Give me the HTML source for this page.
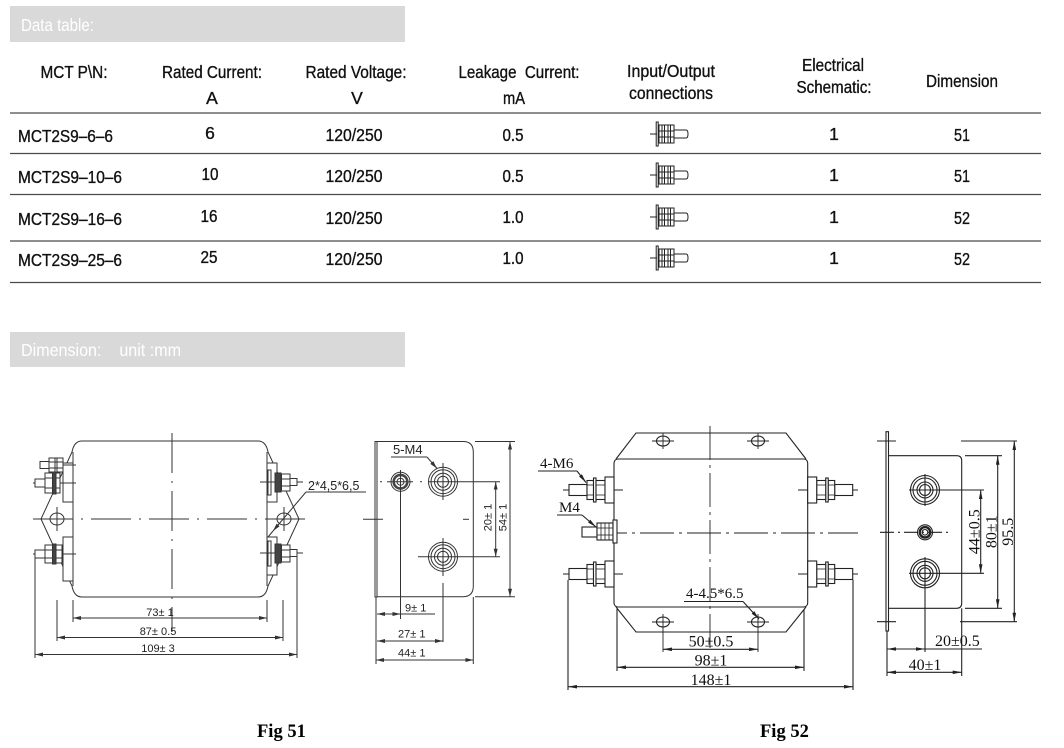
<!DOCTYPE html>
<html><head><meta charset="utf-8"><style>
html,body{margin:0;padding:0;background:#fff;}
svg{display:block;}
.tx{font-family:"Liberation Sans",Arial,sans-serif;font-size:17.5px;fill:#111;stroke:#111;stroke-width:0.35px;}
.bar{font-family:"Liberation Sans",Arial,sans-serif;font-size:17.5px;fill:#fff;}
.d11{font-family:"Liberation Sans",Arial,sans-serif;font-size:11px;fill:#222;}
.s16{font-family:"Liberation Serif","Times New Roman",serif;font-size:16px;fill:#111;}
.s15{font-family:"Liberation Serif","Times New Roman",serif;font-size:15px;fill:#111;}
.fig{font-family:"Liberation Serif","Times New Roman",serif;font-size:18.5px;font-weight:bold;fill:#000;}
</style></head><body>
<svg width="1064" height="748" viewBox="0 0 1064 748" xmlns="http://www.w3.org/2000/svg">
<defs>
<marker id="a1" viewBox="0 0 8 4" refX="8" refY="2" markerWidth="8" markerHeight="4" markerUnits="userSpaceOnUse" orient="auto-start-reverse"><path d="M0,0L8,2L0,4z" fill="#333"/></marker>
<marker id="a2" viewBox="0 0 10 4" refX="10" refY="2" markerWidth="10" markerHeight="3.6" markerUnits="userSpaceOnUse" orient="auto-start-reverse"><path d="M0,0L10,2L0,4z" fill="#222"/></marker>
<g id="ic" stroke="#222" stroke-width="1" fill="none">
<line x1="-7" y1="0" x2="0" y2="0"/>
<rect x="-0.8" y="-12" width="2" height="24"/>
<rect x="2" y="-9" width="15" height="18"/>
<line x1="5" y1="-9" x2="5" y2="9"/><line x1="7.5" y1="-9" x2="7.5" y2="9"/>
<line x1="11" y1="-9" x2="11" y2="9"/><line x1="13.5" y1="-9" x2="13.5" y2="9"/>
<line x1="2" y1="-3" x2="17" y2="-3"/><line x1="2" y1="3" x2="17" y2="3"/>
<path d="M17,-4 H29 Q31,-4 31,0 Q31,4 29,4 H17"/>
</g>
</defs>

<!-- header bars -->
<rect x="10" y="6" width="395" height="36" fill="#d9d9d9"/>
<text x="21" y="31" class="bar" textLength="73" lengthAdjust="spacingAndGlyphs">Data table:</text>
<rect x="10" y="332" width="395" height="35" fill="#d9d9d9"/>
<text x="21" y="356" class="bar" xml:space="preserve" textLength="160" lengthAdjust="spacingAndGlyphs">Dimension:    unit :mm</text>

<!-- table header -->
<g class="tx" text-anchor="middle">
<text x="74" y="78" textLength="67" lengthAdjust="spacingAndGlyphs">MCT P\N:</text>
<text x="212" y="78" textLength="100" lengthAdjust="spacingAndGlyphs">Rated Current:</text>
<text x="212" y="104">A</text>
<text x="356" y="78" textLength="101" lengthAdjust="spacingAndGlyphs">Rated Voltage:</text>
<text x="357" y="104">V</text>
<text x="519" y="78" xml:space="preserve" textLength="121" lengthAdjust="spacingAndGlyphs">Leakage  Current:</text>
<text x="514" y="104" textLength="22" lengthAdjust="spacingAndGlyphs">mA</text>
<text x="671" y="77" textLength="88" lengthAdjust="spacingAndGlyphs">Input/Output</text>
<text x="671" y="99" textLength="84" lengthAdjust="spacingAndGlyphs">connections</text>
<text x="833" y="71" textLength="62" lengthAdjust="spacingAndGlyphs">Electrical</text>
<text x="834" y="93" textLength="75" lengthAdjust="spacingAndGlyphs">Schematic:</text>
<text x="962" y="87" textLength="72" lengthAdjust="spacingAndGlyphs">Dimension</text>
</g>

<g stroke="#4a4a4a" stroke-width="1.3">
<line x1="10" y1="113" x2="1041" y2="113"/>
<line x1="10" y1="153.5" x2="1041" y2="153.5"/>
<line x1="10" y1="194.5" x2="1041" y2="194.5"/>
<line x1="10" y1="241" x2="1041" y2="241"/>
<line x1="10" y1="282.5" x2="1041" y2="282.5"/>
</g>

<!-- rows -->
<g class="tx">
<text x="18" y="142" textLength="95" lengthAdjust="spacingAndGlyphs">MCT2S9–6–6</text>
<text x="18" y="183" textLength="104" lengthAdjust="spacingAndGlyphs">MCT2S9–10–6</text>
<text x="18" y="225" textLength="104" lengthAdjust="spacingAndGlyphs">MCT2S9–16–6</text>
<text x="18" y="266" textLength="104" lengthAdjust="spacingAndGlyphs">MCT2S9–25–6</text>
</g>
<g class="tx" text-anchor="middle">
<text x="210" y="139">6</text>
<text x="210" y="180" textLength="17" lengthAdjust="spacingAndGlyphs">10</text>
<text x="209" y="222" textLength="17" lengthAdjust="spacingAndGlyphs">16</text>
<text x="209" y="263" textLength="17" lengthAdjust="spacingAndGlyphs">25</text>
<text x="354" y="141" textLength="57" lengthAdjust="spacingAndGlyphs">120/250</text>
<text x="354" y="182" textLength="57" lengthAdjust="spacingAndGlyphs">120/250</text>
<text x="354" y="224" textLength="57" lengthAdjust="spacingAndGlyphs">120/250</text>
<text x="354" y="265" textLength="57" lengthAdjust="spacingAndGlyphs">120/250</text>
<text x="513" y="141" textLength="21" lengthAdjust="spacingAndGlyphs">0.5</text>
<text x="513" y="182" textLength="21" lengthAdjust="spacingAndGlyphs">0.5</text>
<text x="513" y="223" textLength="21" lengthAdjust="spacingAndGlyphs">1.0</text>
<text x="513" y="264" textLength="21" lengthAdjust="spacingAndGlyphs">1.0</text>
<text x="834" y="140">1</text>
<text x="834" y="181">1</text>
<text x="834" y="223">1</text>
<text x="834" y="264">1</text>
<text x="962" y="141" textLength="16" lengthAdjust="spacingAndGlyphs">51</text>
<text x="962" y="182" textLength="16" lengthAdjust="spacingAndGlyphs">51</text>
<text x="962" y="224" textLength="16" lengthAdjust="spacingAndGlyphs">52</text>
<text x="962" y="265" textLength="16" lengthAdjust="spacingAndGlyphs">52</text>
</g>
<use href="#ic" transform="translate(657,134)"/>
<use href="#ic" transform="translate(657,175)"/>
<use href="#ic" transform="translate(657,217)"/>
<use href="#ic" transform="translate(657,258)"/>

<!-- ================= FIG 51 LEFT ================= -->
<g stroke="#333" stroke-width="1" fill="none">
<path d="M82,441 H258 Q266,441 268,452 L299,519 L268,586 Q266,597 258,597 H82 Q74,597 72,586 L41,519 L72,452 Q74,441 82,441Z"/>
<line x1="73" y1="452" x2="73" y2="586"/>
<line x1="267" y1="452" x2="267" y2="586"/>
<ellipse cx="57" cy="519" rx="7" ry="6"/>
<ellipse cx="284" cy="519" rx="7" ry="6"/>
<line x1="57" y1="507" x2="57" y2="531"/>
<line x1="284" y1="507" x2="284" y2="531"/>
<line x1="33" y1="519" x2="308" y2="519" stroke-dasharray="40 8 2 8"/>
<line x1="172" y1="433" x2="172" y2="632" stroke-dasharray="40 8 2 8"/>
<!-- plates -->
<rect x="63" y="463" width="10" height="39" fill="#fff"/>
<rect x="63" y="537" width="10" height="44" fill="#fff"/>
<rect x="267" y="463" width="10" height="39" fill="#fff"/>
<rect x="267" y="537" width="10" height="38" fill="#fff"/>
<rect x="268" y="470" width="3" height="25"/>
<rect x="268" y="541" width="3" height="25"/>
<!-- left terminals -->
<line x1="40" y1="465" x2="76" y2="465"/>
<line x1="33" y1="483" x2="76" y2="483"/>
<line x1="33" y1="554" x2="76" y2="554"/>
<rect x="40" y="461.5" width="9" height="7" fill="#fff"/>
<rect x="49" y="458" width="14" height="14" fill="#fff"/>
<line x1="49" y1="462" x2="63" y2="462"/><line x1="49" y1="468" x2="63" y2="468"/>
<line x1="55" y1="458" x2="55" y2="472"/><line x1="57" y1="458" x2="57" y2="472"/>
<rect x="35" y="479" width="10" height="8" fill="#fff"/>
<rect x="45" y="473" width="15" height="20" fill="#fff"/>
<line x1="45" y1="478" x2="60" y2="478"/><line x1="45" y1="488" x2="60" y2="488"/>
<rect x="52.5" y="472" width="3.5" height="22" fill="#444"/>
<rect x="35" y="550" width="10" height="8" fill="#fff"/>
<rect x="45" y="545" width="17" height="18" fill="#fff"/>
<line x1="45" y1="550" x2="62" y2="550"/><line x1="45" y1="558" x2="62" y2="558"/>
<rect x="52.5" y="544" width="3.5" height="20" fill="#444"/>
<!-- right terminals -->
<line x1="260" y1="482" x2="303" y2="482"/>
<line x1="260" y1="553" x2="303" y2="553"/>
<rect x="275" y="473" width="6" height="19" fill="#444"/>
<rect x="281.5" y="474" width="8.5" height="17" fill="#fff"/>
<line x1="281.5" y1="479" x2="290" y2="479"/><line x1="281.5" y1="486" x2="290" y2="486"/>
<rect x="290" y="478.5" width="7" height="7" fill="#fff"/>
<rect x="275" y="544" width="6" height="19" fill="#444"/>
<rect x="281.5" y="545" width="8.5" height="17" fill="#fff"/>
<line x1="281.5" y1="550" x2="290" y2="550"/><line x1="281.5" y1="557" x2="290" y2="557"/>
<rect x="290" y="549.5" width="7" height="7" fill="#fff"/>
<!-- leader 2*4,5*6,5 -->
<line x1="306" y1="492" x2="366" y2="492"/>
<line x1="306" y1="492" x2="273" y2="531" marker-end="url(#a1)"/>
<line x1="273" y1="531" x2="268" y2="537"/>
<!-- dims -->
<line x1="73" y1="600" x2="73" y2="622"/><line x1="267" y1="600" x2="267" y2="622"/>
<line x1="57" y1="600" x2="57" y2="641"/><line x1="283" y1="600" x2="283" y2="641"/>
<line x1="35" y1="556" x2="35" y2="658"/><line x1="297" y1="556" x2="297" y2="658"/>
<line x1="73" y1="618" x2="267" y2="618" marker-start="url(#a1)" marker-end="url(#a1)"/>
<line x1="57" y1="637.5" x2="283" y2="637.5" marker-start="url(#a1)" marker-end="url(#a1)"/>
<line x1="35" y1="654.5" x2="297" y2="654.5" marker-start="url(#a1)" marker-end="url(#a1)"/>
</g>
<text x="308" y="490" class="d11" style="font-size:12.5px">2*4,5*6,5</text>
<g class="d11" text-anchor="middle">
<text x="160" y="616">73± 1</text>
<text x="158" y="635">87± 0.5</text>
<text x="158" y="652">109± 3</text>
</g>

<!-- ================= FIG 51 RIGHT ================= -->
<g stroke="#333" stroke-width="1" fill="none">
<rect x="375" y="441.5" width="2" height="155.5"/>
<path d="M377,441.5 H463 Q473.3,441.5 473.3,452 V586 Q473.3,596.7 463,596.7 H377"/>
<line x1="475" y1="441.5" x2="515" y2="441.5"/>
<line x1="475" y1="596.7" x2="515" y2="596.7"/>
<line x1="510" y1="441.5" x2="510" y2="596.7" marker-start="url(#a1)" marker-end="url(#a1)"/>
<line x1="495.7" y1="481.7" x2="495.7" y2="556.7" marker-start="url(#a1)" marker-end="url(#a1)"/>
<line x1="428" y1="481.7" x2="500" y2="481.7"/>
<line x1="418" y1="556.7" x2="500" y2="556.7"/>
<line x1="380" y1="481.7" x2="382" y2="481.7"/>
<line x1="387" y1="481.7" x2="413" y2="481.7"/>
<line x1="420" y1="481.7" x2="422" y2="481.7"/>
<circle cx="400.5" cy="481.7" r="9.5"/>
<circle cx="400.5" cy="481.7" r="6.8" stroke-width="2.6" stroke="#444"/>
<circle cx="400.5" cy="481.7" r="3.5"/>
<circle cx="443" cy="481.7" r="14.5"/>
<circle cx="443" cy="481.7" r="12"/>
<circle cx="443" cy="481.7" r="8.5"/>
<circle cx="443" cy="481.7" r="5.5"/>
<circle cx="443" cy="556.7" r="14.5"/>
<circle cx="443" cy="556.7" r="12"/>
<circle cx="443" cy="556.7" r="8.5"/>
<circle cx="443" cy="556.7" r="5.5"/>
<line x1="400.5" y1="470" x2="400.5" y2="619"/>
<line x1="443" y1="463" x2="443" y2="500"/>
<line x1="443" y1="538" x2="443" y2="576"/>
<line x1="443" y1="583" x2="443" y2="642"/>
<line x1="363" y1="519.3" x2="383" y2="519.3"/>
<line x1="463" y1="519.3" x2="469" y2="519.3"/>
<line x1="391" y1="457" x2="427" y2="457"/>
<line x1="427" y1="457" x2="437" y2="468.5" marker-end="url(#a1)"/>
<line x1="376" y1="597" x2="376" y2="664"/>
<line x1="473.3" y1="597" x2="473.3" y2="664"/>
<line x1="377" y1="614" x2="400.5" y2="614" marker-start="url(#a1)" marker-end="url(#a1)"/>
<line x1="400.5" y1="614" x2="435" y2="614"/>
<line x1="377" y1="641" x2="443" y2="641" marker-start="url(#a1)" marker-end="url(#a1)"/>
<line x1="376" y1="660" x2="473.3" y2="660" marker-start="url(#a1)" marker-end="url(#a1)"/>
</g>
<text x="393" y="454" class="d11" style="font-size:13px">5-M4</text>
<g class="d11">
<text x="405" y="611.5">9± 1</text>
<text x="398" y="637.5">27± 1</text>
<text x="398" y="656.5">44± 1</text>
<text text-anchor="middle" transform="translate(491.5,517.5) rotate(-90)">20± 1</text>
<text text-anchor="middle" transform="translate(506.5,517.5) rotate(-90)">54± 1</text>
</g>

<!-- ================= FIG 52 LEFT ================= -->
<g stroke="#222" stroke-width="1.1" fill="none">
<path d="M616,459 L636,433 H786 L806,459"/>
<path d="M616,607 L636,632 H786 L806,607"/>
<rect x="614" y="459" width="193.7" height="148" rx="4" fill="#fff"/>
<ellipse cx="663" cy="441" rx="6.5" ry="5"/><ellipse cx="758" cy="441" rx="6.5" ry="5"/>
<ellipse cx="663" cy="622" rx="6.5" ry="5"/><ellipse cx="758" cy="622" rx="6.5" ry="5"/>
<g stroke-width="0.9">
<line x1="652" y1="441" x2="674" y2="441"/><line x1="663" y1="433" x2="663" y2="449"/>
<line x1="747" y1="441" x2="769" y2="441"/><line x1="758" y1="433" x2="758" y2="449"/>
<line x1="652" y1="622" x2="674" y2="622"/><line x1="663" y1="614" x2="663" y2="652"/>
<line x1="747" y1="622" x2="769" y2="622"/><line x1="758" y1="614" x2="758" y2="652"/>
<line x1="710" y1="426" x2="710" y2="650" stroke-dasharray="34 5 3 5"/>
<line x1="593" y1="533" x2="858" y2="533" stroke-dasharray="34 5 3 5"/>
<line x1="563" y1="490" x2="623" y2="490"/><line x1="798" y1="490" x2="858" y2="490"/>
<line x1="563" y1="574" x2="623" y2="574"/><line x1="798" y1="574" x2="858" y2="574"/>
</g>
<!-- left terminals -->
<g fill="#fff">
<rect x="569" y="484.5" width="18" height="11"/>
<rect x="587" y="480.5" width="6.5" height="19"/>
<rect x="593.5" y="478" width="2.5" height="24"/>
<rect x="596" y="480.5" width="9" height="19"/>
<rect x="605" y="477" width="9" height="26"/>
<rect x="569" y="568.5" width="18" height="11"/>
<rect x="587" y="564.5" width="6.5" height="19"/>
<rect x="593.5" y="562" width="2.5" height="24"/>
<rect x="596" y="564.5" width="9" height="19"/>
<rect x="605" y="561" width="9" height="26"/>
<!-- right terminals -->
<rect x="834.7" y="484.5" width="18" height="11"/>
<rect x="828.2" y="480.5" width="6.5" height="19"/>
<rect x="825.7" y="478" width="2.5" height="24"/>
<rect x="816.7" y="480.5" width="9" height="19"/>
<rect x="807.7" y="477" width="9" height="26"/>
<rect x="834.7" y="568.5" width="18" height="11"/>
<rect x="828.2" y="564.5" width="6.5" height="19"/>
<rect x="825.7" y="562" width="2.5" height="24"/>
<rect x="816.7" y="564.5" width="9" height="19"/>
<rect x="807.7" y="561" width="9" height="26"/>
<!-- M4 -->
<rect x="582" y="527" width="15" height="10"/>
<rect x="597" y="523" width="16" height="17"/>
<rect x="613" y="520" width="4" height="23"/>
</g>
<g stroke-width="0.8">
<line x1="587" y1="485" x2="593.5" y2="485"/><line x1="587" y1="495" x2="593.5" y2="495"/>
<line x1="596" y1="485" x2="605" y2="485"/><line x1="596" y1="495" x2="605" y2="495"/>
<line x1="587" y1="569" x2="593.5" y2="569"/><line x1="587" y1="579" x2="593.5" y2="579"/>
<line x1="596" y1="569" x2="605" y2="569"/><line x1="596" y1="579" x2="605" y2="579"/>
<line x1="828.2" y1="485" x2="834.7" y2="485"/><line x1="828.2" y1="495" x2="834.7" y2="495"/>
<line x1="816.7" y1="485" x2="825.7" y2="485"/><line x1="816.7" y1="495" x2="825.7" y2="495"/>
<line x1="828.2" y1="569" x2="834.7" y2="569"/><line x1="828.2" y1="579" x2="834.7" y2="579"/>
<line x1="816.7" y1="569" x2="825.7" y2="569"/><line x1="816.7" y1="579" x2="825.7" y2="579"/>
<line x1="601" y1="523" x2="601" y2="540"/><line x1="605" y1="523" x2="605" y2="540"/><line x1="609" y1="523" x2="609" y2="540"/>
<line x1="597" y1="528" x2="613" y2="528"/><line x1="597" y1="535" x2="613" y2="535"/>
</g>
<!-- leaders -->
<line x1="538" y1="471" x2="577" y2="471"/>
<line x1="577" y1="471" x2="586" y2="482.5" marker-end="url(#a2)"/>
<line x1="557" y1="515" x2="582" y2="515"/>
<line x1="582" y1="515" x2="596" y2="527" marker-end="url(#a2)"/>
<line x1="684" y1="601.5" x2="743" y2="601.5"/>
<line x1="743" y1="601.5" x2="759" y2="619" marker-end="url(#a2)"/>
<!-- dims -->
<line x1="617" y1="609" x2="617" y2="671"/><line x1="804" y1="609" x2="804" y2="671"/>
<line x1="568" y1="580" x2="568" y2="690"/><line x1="853" y1="580" x2="853" y2="690"/>
<line x1="663" y1="649.3" x2="758" y2="649.3" marker-start="url(#a2)" marker-end="url(#a2)"/>
<line x1="617" y1="667.3" x2="804" y2="667.3" marker-start="url(#a2)" marker-end="url(#a2)"/>
<line x1="568" y1="686.7" x2="853" y2="686.7" marker-start="url(#a2)" marker-end="url(#a2)"/>
</g>
<g class="s15">
<text x="540" y="468">4-M6</text>
<text x="559" y="512">M4</text>
<text x="686" y="598">4-4.5*6.5</text>
</g>
<g class="s16" text-anchor="middle">
<text x="711" y="646.5">50±0.5</text>
<text x="711" y="665.5">98±1</text>
<text x="711" y="685">148±1</text>
</g>

<!-- ================= FIG 52 RIGHT ================= -->
<g stroke="#222" stroke-width="1.1" fill="none">
<rect x="886" y="431.7" width="2.5" height="199.3"/>
<line x1="877" y1="441" x2="896" y2="441"/>
<line x1="877" y1="621.7" x2="896" y2="621.7"/>
<path d="M888.5,455.7 H956.7 Q961.7,455.7 961.7,460.7 V603.3 Q961.7,608.3 956.7,608.3 H888.5"/>
<line x1="961" y1="441" x2="1017" y2="441"/>
<line x1="965" y1="455.7" x2="1002" y2="455.7"/>
<line x1="965" y1="608.3" x2="1002" y2="608.3"/>
<line x1="960" y1="621.7" x2="1017" y2="621.7"/>
<line x1="1014.3" y1="441" x2="1014.3" y2="621.7" marker-start="url(#a2)" marker-end="url(#a2)"/>
<line x1="997.7" y1="455.7" x2="997.7" y2="608.3" marker-start="url(#a2)" marker-end="url(#a2)"/>
<line x1="980.7" y1="490" x2="980.7" y2="573.3" marker-start="url(#a2)" marker-end="url(#a2)"/>
<line x1="909" y1="490" x2="984" y2="490"/>
<line x1="909" y1="573.3" x2="984" y2="573.3"/>
<circle cx="925" cy="490" r="14.5"/><circle cx="925" cy="490" r="12"/><circle cx="925" cy="490" r="8"/><circle cx="925" cy="490" r="5.5"/>
<circle cx="925" cy="573.3" r="14.5"/><circle cx="925" cy="573.3" r="12"/><circle cx="925" cy="573.3" r="8"/><circle cx="925" cy="573.3" r="5.5"/>
<circle cx="925" cy="532.3" r="7.5"/><circle cx="925" cy="532.3" r="5.2" stroke-width="2.4"/><circle cx="925" cy="532.3" r="2.8"/>
<line x1="925" y1="474" x2="925" y2="506"/>
<line x1="925" y1="557" x2="925" y2="652"/>
<line x1="880" y1="532.3" x2="948" y2="532.3" stroke-dasharray="14 4 2 4"/>
<line x1="887" y1="631" x2="887" y2="676"/>
<line x1="961.7" y1="608.3" x2="961.7" y2="676"/>
<line x1="887" y1="649" x2="925" y2="649" marker-start="url(#a2)" marker-end="url(#a2)"/>
<line x1="925" y1="649" x2="982" y2="649"/>
<line x1="887" y1="672.3" x2="961.7" y2="672.3" marker-start="url(#a2)" marker-end="url(#a2)"/>
</g>
<g class="s16">
<text text-anchor="middle" transform="translate(979.5,531.7) rotate(-90)">44±0.5</text>
<text text-anchor="middle" transform="translate(996.5,531.7) rotate(-90)">80±1</text>
<text text-anchor="middle" transform="translate(1013,531.7) rotate(-90)">95.5</text>
<text x="935" y="646">20±0.5</text>
<text x="925" y="670" text-anchor="middle">40±1</text>
</g>

<text x="257" y="737" class="fig">Fig 51</text>
<text x="760" y="737" class="fig">Fig 52</text>
</svg>
</body></html>
